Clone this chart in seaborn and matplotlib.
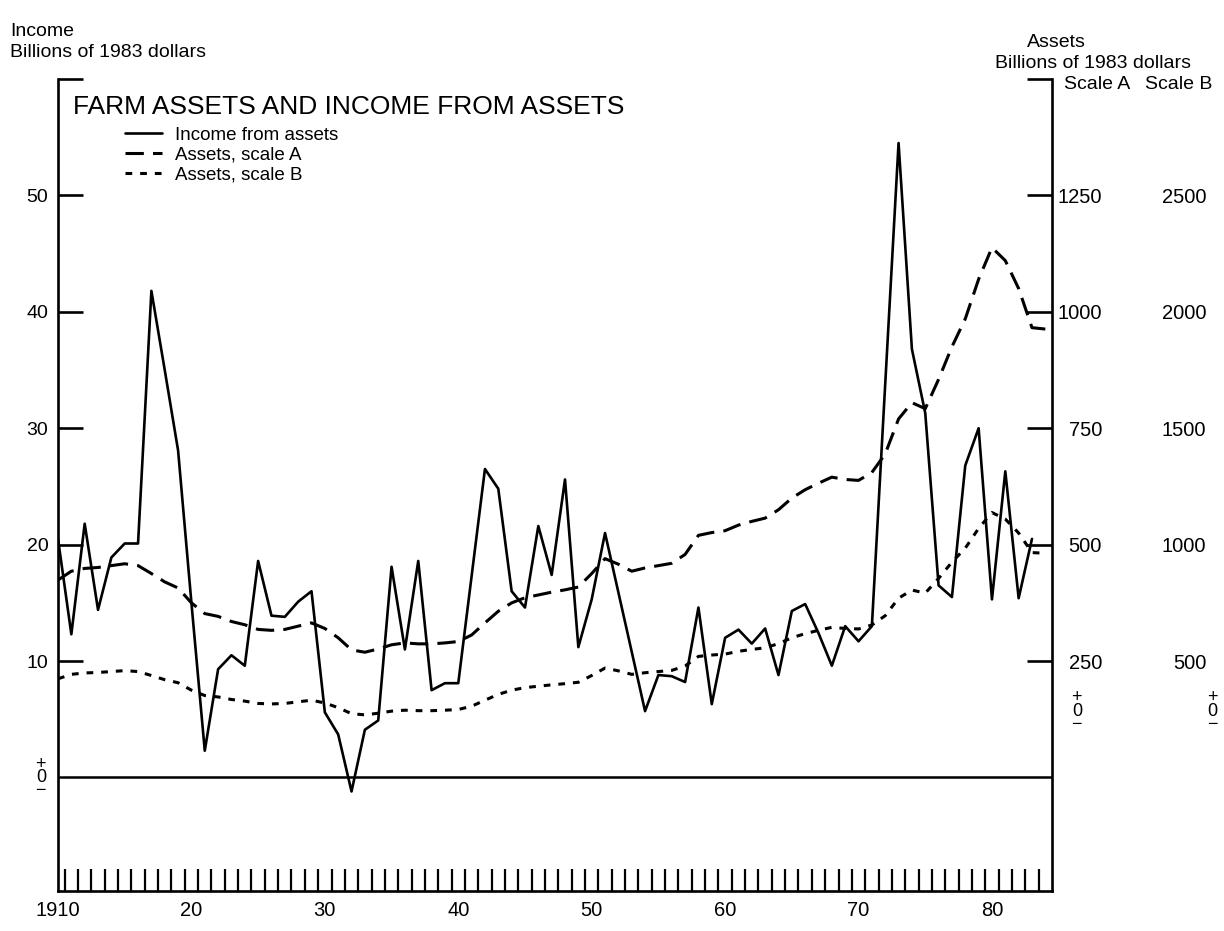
import matplotlib
matplotlib.use("Agg")
import matplotlib.pyplot as plt
import seaborn as sns
import pandas as pd

# Income from assets, billions of 1983 dollars (left scale)
years = list(range(1910, 1984))
income = [20.5, 12.3, 21.8, 14.4, 18.9, 20.1, 20.1, 41.8, 35.0, 28.1,
          15.0, 2.3, 9.3, 10.5, 9.6, 18.6, 13.9, 13.8, 15.1, 16.0,
          5.6, 3.7, -1.2, 4.1, 4.9, 18.1, 11.0, 18.6, 7.5, 8.1,
          8.1, 17.3, 26.5, 24.8, 16.0, 14.6, 21.6, 17.4, 25.6, 11.2,
          15.3, 21.0, 15.9, 10.8, 5.7, 8.8, 8.7, 8.2, 14.6, 6.3,
          12.0, 12.7, 11.5, 12.8, 8.8, 14.3, 14.9, 12.4, 9.6, 13.0,
          11.7, 13.0, 33.8, 54.5, 36.8, 31.3, 16.5, 15.5, 26.8, 30.0,
          15.3, 26.3, 15.4, 20.5]

# Farm assets, billions of 1983 dollars (drawn on scale A and on scale B)
asset_years = list(range(1910, 1985))
assets = [424, 443, 449, 451, 455, 459, 455, 438, 420, 407,
          375, 352, 346, 335, 328, 318, 316, 318, 325, 332,
          320, 300, 274, 269, 276, 285, 289, 287, 287, 289,
          292, 306, 332, 357, 375, 386, 392, 398, 403, 409,
          438, 470, 458, 443, 450, 455, 460, 479, 520, 526,
          530, 542, 550, 557, 575, 600, 618, 632, 645, 640,
          638, 655, 695, 770, 805, 792, 855, 925, 985, 1070,
          1138, 1110, 1050, 966, 963]

income_ticks = [10, 20, 30, 40, 50]
scale_a_ticks = [250, 500, 750, 1000, 1250]
scale_b_ticks = [500, 1000, 1500, 2000, 2500]
decades = [1910, 1920, 1930, 1940, 1950, 1960, 1970, 1980]
decade_labels = ["1910", "20", "30", "40", "50", "60", "70", "80"]

sns.set_theme(style="white")
plt.rcParams["font.family"] = ["Liberation Sans", "DejaVu Sans"]
plt.rcParams["text.color"] = "black"
plt.rcParams["xtick.color"] = "black"
plt.rcParams["ytick.color"] = "black"

W, H = 1224, 931
fig = plt.figure(figsize=(W / 100, H / 100), dpi=100)
ax = fig.add_axes([58 / W, 40 / H, 994 / W, 812 / H])
ax2 = ax.twinx()
ax3 = ax.twinx()

# one income unit = 25 on scale A = 50 on scale B
ylo, yhi = -9.75, 60
ax.set_ylim(ylo, yhi)
ax2.set_ylim(ylo * 25, yhi * 25)
ax3.set_ylim(ylo * 50, yhi * 50)

df_inc = pd.DataFrame({"year": years, "income": income})
df_ast = pd.DataFrame({"year": asset_years, "assets": assets})

sns.lineplot(data=df_inc, x="year", y="income", ax=ax, color="black",
             linewidth=1.9, label="Income from assets", legend=False)
sns.lineplot(data=df_ast, x="year", y="assets", ax=ax2, color="black",
             linewidth=2.2, linestyle=(0, (6, 3)), label="Assets, scale A", legend=False)
sns.lineplot(data=df_ast, x="year", y="assets", ax=ax3, color="black",
             linewidth=2.2, linestyle=(0, (2.2, 2.6)), label="Assets, scale B", legend=False)

ax.axhline(0, color="black", linewidth=1.8)
ax.set_xlim(1910, 1984.5)

for a in (ax, ax2, ax3):
    a.set_xlabel("")
    a.set_ylabel("")
    for s in a.spines.values():
        s.set_visible(False)
for s in (ax.spines["left"], ax.spines["bottom"], ax2.spines["right"]):
    s.set_visible(True)
    s.set_color("black")
    s.set_linewidth(1.9)

# left scale
ax.set_yticks(income_ticks + [60])
ax.set_yticklabels([str(t) for t in income_ticks] + [""])
ax.tick_params(axis="y", direction="in", length=18, width=1.9, labelsize=14,
               pad=7, left=True, right=False, colors="black")

# bottom: year ticks between labels
ax.set_xticks(decades)
ax.set_xticklabels(decade_labels)
ax.set_xticks([y + 0.5 for y in years], minor=True)
ax.tick_params(axis="x", which="major", length=0, labelsize=14.5, pad=7,
               bottom=True, colors="black")
ax.tick_params(axis="x", which="minor", direction="in", length=16, width=1.6,
               bottom=True, color="black")

# right scales
ax2.set_yticks(scale_a_ticks + [1500])
ax2.set_yticklabels([str(t) for t in scale_a_ticks] + [""], ha="right")
ax2.tick_params(axis="y", direction="in", length=18, width=1.9, labelsize=14.5,
                pad=36, right=True, left=False, colors="black")
ax3.set_yticks(scale_b_ticks)
ax3.set_yticklabels([str(t) for t in scale_b_ticks], ha="right")
ax3.tick_params(axis="y", length=0, labelsize=14.5, pad=111, right=True,
                left=False, colors="black")

# stacked +/0/- zero markers
ytr = ax.get_yaxis_transform()
ax.text(-0.012, 0, "+\n0\n\u2212", transform=ytr, ha="right", va="center",
        fontsize=13, linespacing=0.72)
ax.text(1.025, 5.7, "+\n0\n\u2212", transform=ytr, ha="center", va="center",
        fontsize=13, linespacing=0.72, clip_on=False)
ax.text(1.161, 5.7, "+\n0\n\u2212", transform=ytr, ha="center", va="center",
        fontsize=13, linespacing=0.72, clip_on=False)

ax.text(1911.1, 57.0, "FARM ASSETS AND INCOME FROM ASSETS", fontsize=19,
        ha="left", va="baseline")

h1, l1 = ax.get_legend_handles_labels()
h2, l2 = ax2.get_legend_handles_labels()
h3, l3 = ax3.get_legend_handles_labels()
ax.legend(h1 + h2 + h3, l1 + l2 + l3, loc="upper left",
          bbox_to_anchor=(1915.0, 55.9), bbox_transform=ax.transData,
          frameon=False, fontsize=13.5, handlelength=2.0, handletextpad=0.7,
          labelspacing=0.15, borderaxespad=0, borderpad=0)

# axis titles
fig.text(10 / W, 1 - 36 / H, "Income", fontsize=14, va="baseline")
fig.text(10 / W, 1 - 57 / H, "Billions of 1983 dollars", fontsize=14, va="baseline")
fig.text(1027 / W, 1 - 47 / H, "Assets", fontsize=14, va="baseline")
fig.text(995 / W, 1 - 68 / H, "Billions of 1983 dollars", fontsize=14, va="baseline")
fig.text(1064 / W, 1 - 89 / H, "Scale A", fontsize=14, va="baseline")
fig.text(1212 / W, 1 - 89 / H, "Scale B", fontsize=14, va="baseline", ha="right")

fig.savefig("out.png", dpi=100)
